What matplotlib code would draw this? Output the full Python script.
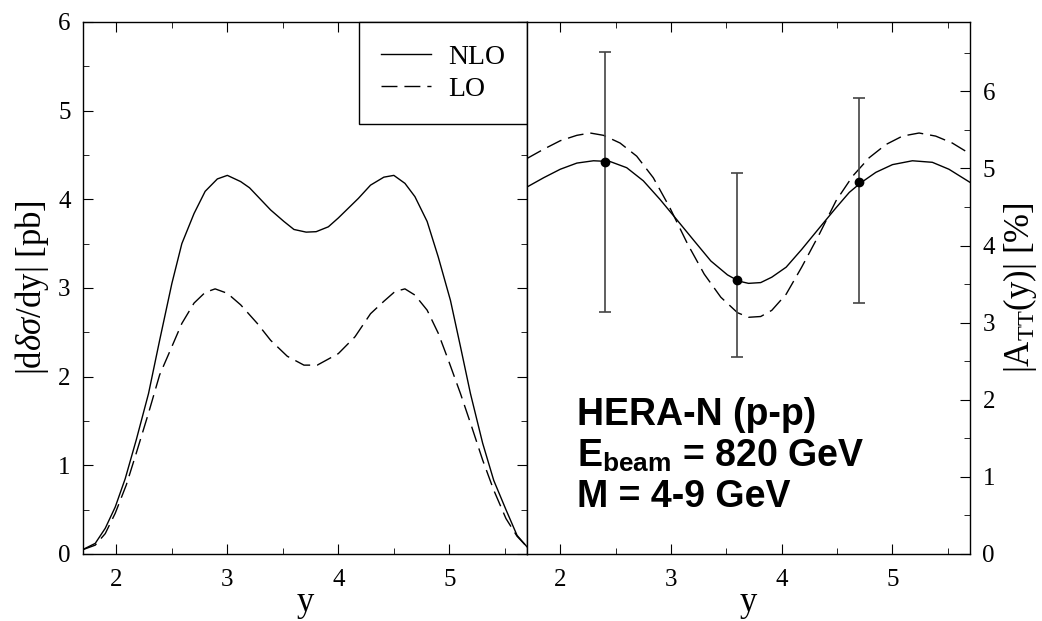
import matplotlib
matplotlib.use('Agg')
import matplotlib.pyplot as plt
from matplotlib.ticker import MultipleLocator

plt.rcParams['font.family'] = 'Liberation Serif'
plt.rcParams['mathtext.fontset'] = 'custom'
plt.rcParams['mathtext.rm'] = 'Liberation Serif'
plt.rcParams['mathtext.it'] = 'Liberation Serif:italic'
plt.rcParams['mathtext.bf'] = 'Liberation Sans:bold'

# left panel: |d delta sigma / dy| [pb]
y_nlo = [1.69, 1.81, 1.90, 1.99, 2.08, 2.18, 2.29, 2.39, 2.50, 2.59, 2.70, 2.80, 2.91,
         3.00, 3.12, 3.20, 3.39, 3.51, 3.60, 3.71, 3.80, 3.91, 4.00, 4.18, 4.29, 4.41,
         4.50, 4.60, 4.69, 4.80, 4.90, 5.01, 5.10, 5.19, 5.30, 5.40, 5.51, 5.61, 5.70]
xs_nlo = [0.045, 0.12, 0.29, 0.53, 0.85, 1.29, 1.81, 2.41, 3.05, 3.50, 3.84, 4.09, 4.23,
          4.27, 4.20, 4.13, 3.88, 3.75, 3.66, 3.63, 3.635, 3.69, 3.79, 4.01, 4.16, 4.25,
          4.27, 4.18, 4.03, 3.75, 3.35, 2.86, 2.34, 1.81, 1.25, 0.83, 0.50, 0.21, 0.08]

y_lo = [1.69, 1.81, 1.90, 1.99, 2.09, 2.18, 2.29, 2.39, 2.48, 2.59, 2.70, 2.80, 2.89,
        3.00, 3.12, 3.27, 3.39, 3.54, 3.69, 3.81, 4.00, 4.15, 4.29, 4.41, 4.51, 4.60,
        4.69, 4.80, 4.90, 4.99, 5.10, 5.20, 5.30, 5.40, 5.51, 5.61, 5.70]
xs_lo = [0.045, 0.10, 0.23, 0.46, 0.78, 1.14, 1.59, 2.02, 2.28, 2.60, 2.83, 2.95, 2.99,
         2.94, 2.81, 2.60, 2.41, 2.23, 2.13, 2.13, 2.26, 2.45, 2.71, 2.85, 2.96, 2.99,
         2.92, 2.75, 2.49, 2.19, 1.81, 1.44, 1.06, 0.72, 0.40, 0.20, 0.08]

# right panel: |A_TT(y)| [%]
ya_nlo = [1.70, 1.85, 2.00, 2.15, 2.30, 2.45, 2.60, 2.75, 2.90, 3.05, 3.21, 3.36, 3.51,
          3.61, 3.70, 3.81, 3.91, 4.04, 4.18, 4.34, 4.49, 4.61, 4.71, 4.85, 5.00, 5.18,
          5.36, 5.51, 5.70]
att_nlo = [4.76, 4.88, 4.99, 5.07, 5.10, 5.09, 5.01, 4.84, 4.60, 4.34, 4.06, 3.80, 3.62,
           3.54, 3.51, 3.52, 3.59, 3.72, 3.95, 4.23, 4.49, 4.69, 4.81, 4.95, 5.05, 5.10,
           5.08, 4.99, 4.82]

ya_lo = [1.70, 1.85, 2.00, 2.15, 2.27, 2.39, 2.54, 2.69, 2.84, 2.99, 3.15, 3.30, 3.45,
         3.60, 3.70, 3.81, 3.91, 4.04, 4.18, 4.34, 4.49, 4.64, 4.79, 4.94, 5.09, 5.24,
         5.39, 5.54, 5.70]
att_lo = [5.13, 5.25, 5.36, 5.43, 5.46, 5.43, 5.33, 5.16, 4.88, 4.49, 4.02, 3.63, 3.33,
          3.13, 3.07, 3.08, 3.16, 3.37, 3.72, 4.15, 4.58, 4.90, 5.14, 5.31, 5.42, 5.46,
          5.42, 5.33, 5.19]

# projected data points with errors
y_pts = [2.4, 3.6, 4.7]
att_pts = [5.09, 3.56, 4.83]
err_lo = [1.95, 1.00, 1.58]
err_hi = [1.42, 1.38, 1.09]

fig = plt.figure(figsize=(10.42, 6.21), dpi=100)
ax1 = fig.add_axes([0.0797, 0.1079, 0.4261, 0.8567])
ax2 = fig.add_axes([0.5058, 0.1079, 0.4251, 0.8567])

lw = 1.0
ax1.plot(y_nlo, xs_nlo, color='black', lw=lw, label='NLO')
ax1.plot(y_lo, xs_lo, color='black', lw=lw, dashes=(11.5, 5), label='LO')
ax1.set_xlim(1.7, 5.7)
ax1.set_ylim(0, 6)
ax1.xaxis.set_major_locator(MultipleLocator(1))
ax1.xaxis.set_minor_locator(MultipleLocator(0.5))
ax1.yaxis.set_major_locator(MultipleLocator(1))
ax1.yaxis.set_minor_locator(MultipleLocator(0.5))
ax1.tick_params(which='both', direction='in', top=True, right=True, labelsize=18)
ax1.tick_params(axis='y', which='major', length=7, pad=9)
ax1.tick_params(axis='y', which='minor', length=4)
ax1.tick_params(axis='x', which='major', length=7, pad=11)
ax1.tick_params(axis='x', which='minor', length=4)
ax1.set_xlabel('y', fontsize=25, labelpad=-4)
ax1.set_ylabel(r'|d$\delta\sigma$/dy| [pb]', fontsize=25, labelpad=5)
leg = ax1.legend(loc='upper right', bbox_to_anchor=(1.0, 1.0), borderaxespad=0,
                 fontsize=20, fancybox=False, edgecolor='black', framealpha=1,
                 handlelength=1.8, handletextpad=0.6, borderpad=0.8, labelspacing=0.25)
leg.get_frame().set_linewidth(1.0)

ax2.plot(ya_nlo, att_nlo, color='black', lw=lw)
ax2.plot(ya_lo, att_lo, color='black', lw=lw, dashes=(11.5, 5))
ax2.errorbar(y_pts, att_pts, yerr=[err_lo, err_hi], fmt='o', color='black',
             ecolor='#444444', elinewidth=1.2, capsize=4, capthick=1.2, markersize=6)
ax2.set_xlim(1.7, 5.7)
ax2.set_ylim(0, 6.9)
ax2.xaxis.set_major_locator(MultipleLocator(1))
ax2.xaxis.set_minor_locator(MultipleLocator(0.5))
ax2.yaxis.set_major_locator(MultipleLocator(1))
ax2.yaxis.set_minor_locator(MultipleLocator(0.5))
ax2.yaxis.tick_right()
ax2.yaxis.set_label_position('right')
ax2.tick_params(which='both', direction='in', top=True, left=False, labelsize=18)
ax2.tick_params(axis='y', which='major', length=7, pad=9)
ax2.tick_params(axis='y', which='minor', length=4)
ax2.tick_params(axis='x', which='major', length=7, pad=11)
ax2.tick_params(axis='x', which='minor', length=4)
ax2.set_xlabel('y', fontsize=25, labelpad=-4)
ax2.set_ylabel(r'|A$_{\mathrm{TT}}$(y)| [%]', fontsize=25, labelpad=4)

for ax in (ax1, ax2):
    for sp in ax.spines.values():
        sp.set_linewidth(1.0)

txt = dict(transform=ax2.transAxes, family='Liberation Sans', fontweight='bold',
           fontsize=27, va='baseline', ha='left')
ax2.text(0.113, 0.2425, 'HERA-N (p-p)', **txt)
ax2.text(0.113, 0.1635, r'E$_{\mathbf{beam}}$ = 820 GeV', **txt)
ax2.text(0.113, 0.088, 'M = 4-9 GeV', **txt)

fig.savefig('out.png', dpi=100)
